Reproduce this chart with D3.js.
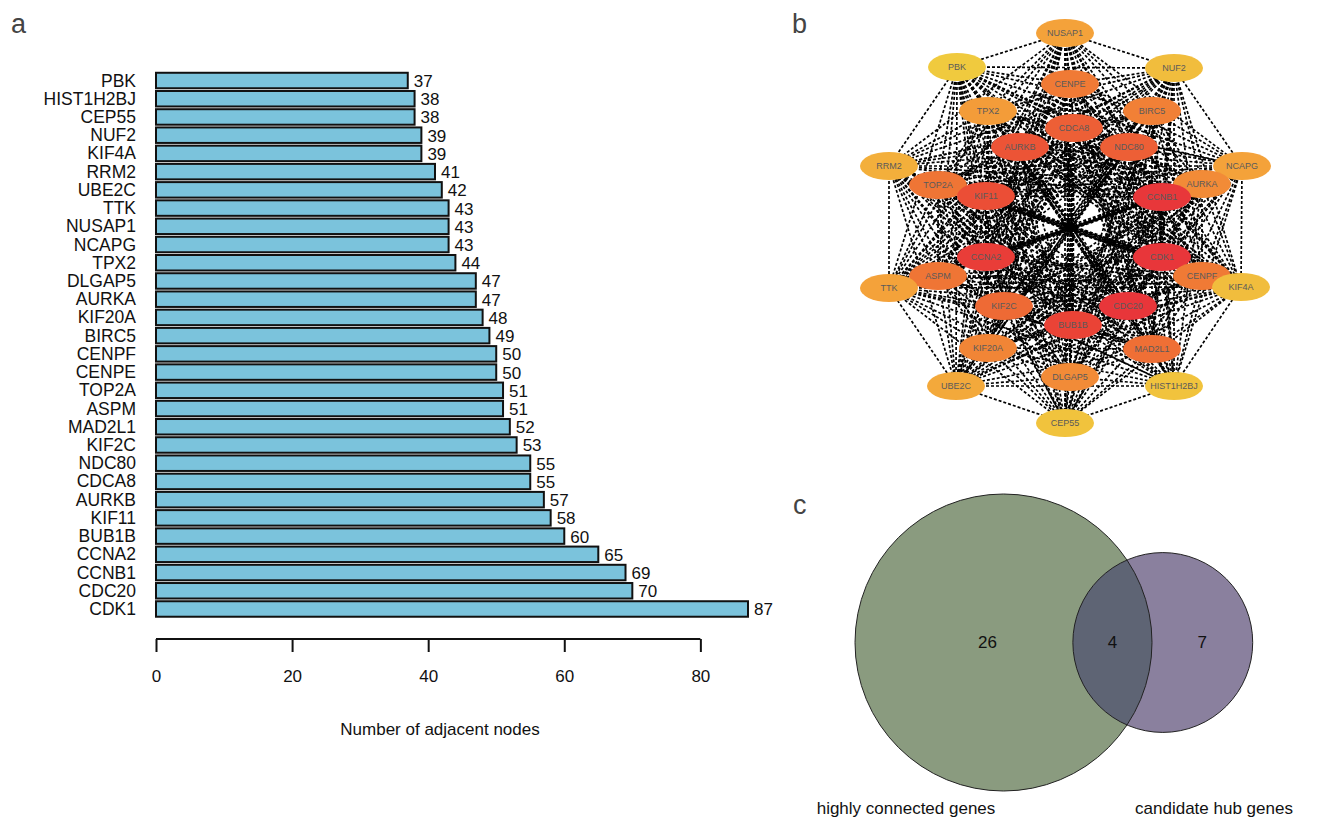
<!DOCTYPE html>
<html>
<head>
<meta charset="utf-8">
<script src="https://cdn.jsdelivr.net/npm/d3@7"></script>
<style>
  body { margin: 0; background: #fff; }
  text { font-family: "Liberation Sans", Arial, Helvetica, sans-serif; }
</style>
</head>
<body>
<div id="fig"></div>
<script>
// ---- data ----
const genes = ["PBK","HIST1H2BJ","CEP55","NUF2","KIF4A","RRM2","UBE2C","TTK","NUSAP1","NCAPG",
  "TPX2","DLGAP5","AURKA","KIF20A","BIRC5","CENPF","CENPE","TOP2A","ASPM","MAD2L1",
  "KIF2C","NDC80","CDCA8","AURKB","KIF11","BUB1B","CCNA2","CCNB1","CDC20","CDK1"];
const degrees = [37,38,38,39,39,41,42,43,43,43,44,47,47,48,49,50,50,51,51,52,53,55,55,57,58,60,65,69,70,87];
const xTicks = [0, 20, 40, 60, 80];

// network layout (relative to the centre of panel b)
const netNodes = ["NUSAP1","PBK","NUF2","CENPE","TPX2","BIRC5","CDCA8","AURKB","NDC80","RRM2",
  "NCAPG","TOP2A","AURKA","KIF11","CCNB1","CCNA2","CDK1","ASPM","CENPF","TTK",
  "KIF4A","KIF2C","CDC20","BUB1B","KIF20A","MAD2L1","UBE2C","DLGAP5","HIST1H2BJ","CEP55"];
const netLayout = [[-1,-194],[-109,-160],[108,-159],[4,-143],[-78,-116],[86,-116],[8,-99],[-46,-80],[63,-80],[-177,-61],
  [176,-61],[-128,-42],[136,-43],[-80,-31],[96,-30],[-80,30],[96,30],[-128,49],[136,49],[-177,61],
  [175,60],[-62,79],[62,79],[7,98],[-78,121],[86,122],[-110,159],[4,150],[108,159],[-1,196]];
// pairs with no interaction (network is otherwise fully connected)
const absentLinks = [];

const vennNames = ["highly connected genes", "candidate hub genes"];
const vennOnly = [26, 7];
const vennShared = 4;

// ---- svg ----
const W = 1319, H = 819;
const svg = d3.select("#fig").append("svg")
  .attr("width", W).attr("height", H)
  .style("background", "#fff");

const letter = (t, x, y) => svg.append("text")
  .attr("x", x).attr("y", y)
  .style("font-size", "27px").style("fill", "#444")
  .text(t);
letter("a", 11, 33);
letter("b", 792, 33);
letter("c", 793, 514);

// === Panel a: bar chart ===
const x = d3.scaleLinear().domain([0, 87]).range([156, 748]);
const y = d3.scaleBand().domain(genes).range([71.4, 618.1])
  .paddingInner(0.15).paddingOuter(0.075);

const barData = genes.map((g, i) => ({ gene: g, value: degrees[i] }));

const gA = svg.append("g");
gA.selectAll("rect.bar")
  .data(barData)
  .enter()
  .append("rect")
  .attr("class", "bar")
  .attr("x", x(0))
  .attr("y", d => y(d.gene))
  .attr("width", d => x(d.value) - x(0))
  .attr("height", y.bandwidth())
  .attr("fill", "#7BC3DC")
  .attr("stroke", "#111")
  .attr("stroke-width", 2);

gA.selectAll("text.gene")
  .data(barData)
  .enter()
  .append("text")
  .attr("x", 136)
  .attr("y", d => y(d.gene) + y.bandwidth() / 2)
  .attr("text-anchor", "end")
  .attr("dominant-baseline", "central")
  .style("font-size", "17.5px")
  .style("fill", "#111")
  .text(d => d.gene);

gA.selectAll("text.value")
  .data(barData)
  .enter()
  .append("text")
  .attr("x", d => x(d.value) + 6)
  .attr("y", d => y(d.gene) + y.bandwidth() / 2 + 1)
  .attr("dominant-baseline", "central")
  .style("font-size", "17px")
  .style("fill", "#111")
  .text(d => d.value);

// x axis, R style
const axisY = 639;
const xAxis = gA.append("g")
  .attr("transform", `translate(0,${axisY})`)
  .call(d3.axisBottom(x).tickValues(xTicks).tickSize(13).tickSizeOuter(0).tickPadding(18));
xAxis.select(".domain").remove();
xAxis.append("line")
  .attr("x1", x(xTicks[0])).attr("x2", x(xTicks[xTicks.length - 1]))
  .attr("stroke", "#111").attr("stroke-width", 2);
xAxis.selectAll(".tick line").attr("stroke", "#111").attr("stroke-width", 2);
xAxis.selectAll(".tick text")
  .style("font-size", "17px")
  .style("fill", "#111")
  .style("font-family", "'Liberation Sans', Arial, sans-serif");

gA.append("text")
  .attr("x", 440).attr("y", 735)
  .attr("text-anchor", "middle")
  .style("font-size", "17px").style("fill", "#111")
  .text("Number of adjacent nodes");

// === Panel b: network ===
const degreeOf = new Map(genes.map((g, i) => [g, degrees[i]]));
const nodeColor = d3.scaleLinear()
  .domain([37, 43, 50, 60, 70])
  .range(["#F0CA3E", "#F4A23A", "#F07A35", "#EA4336", "#E8363A"])
  .clamp(true);

const nx = d3.scaleLinear().domain([-200, 200]).range([866, 1266]);
const ny = d3.scaleLinear().domain([-200, 200]).range([27, 427]);

const nodes = netNodes.map((n, i) => ({ id: n, px: nx(netLayout[i][0]), py: ny(netLayout[i][1]) }));
const absent = new Set(absentLinks);
const links = [];
nodes.forEach((a, i) => nodes.forEach((b, j) => {
  if (j > i && !absent.has(a.id + "-" + b.id) && !absent.has(b.id + "-" + a.id)) links.push([a, b]);
}));

const gB = svg.append("g");
gB.selectAll("line.edge")
  .data(links)
  .enter()
  .append("line")
  .attr("x1", d => d[0].px).attr("y1", d => d[0].py)
  .attr("x2", d => d[1].px).attr("y2", d => d[1].py)
  .attr("stroke", "#000")
  .attr("stroke-width", 1.7)
  .attr("stroke-dasharray", "3,2");

const nodeG = gB.selectAll("g.node")
  .data(nodes)
  .enter()
  .append("g")
  .attr("transform", d => `translate(${d.px},${d.py})`);
nodeG.append("ellipse")
  .attr("rx", 29).attr("ry", 14)
  .attr("fill", d => nodeColor(degreeOf.get(d.id)));
nodeG.append("text")
  .attr("text-anchor", "middle")
  .attr("dominant-baseline", "central")
  .style("font-size", "9px")
  .style("fill", "#5a5a5a")
  .text(d => d.id);

// === Panel c: venn ===
const setTotals = [vennOnly[0] + vennShared, vennOnly[1] + vennShared];
const r = d3.scaleSqrt().domain([0, setTotals[0]]).range([0, 148.5]);
const r1 = r(setTotals[0]), r2 = r(setTotals[1]);

function lensArea(a, b, d) {
  const a2 = a * a, b2 = b * b;
  const t1 = a2 * Math.acos((d * d + a2 - b2) / (2 * d * a));
  const t2 = b2 * Math.acos((d * d + b2 - a2) / (2 * d * b));
  const t3 = 0.5 * Math.sqrt((-d + a + b) * (d + a - b) * (d - a + b) * (d + a + b));
  return t1 + t2 - t3;
}
const target = Math.PI * r1 * r1 * vennShared / setTotals[0];
let lo = Math.abs(r1 - r2) + 0.01, hi = r1 + r2;
for (let k = 0; k < 60; k++) {
  const mid = (lo + hi) / 2;
  if (lensArea(r1, r2, mid) > target) lo = mid; else hi = mid;
}
const dist = (lo + hi) / 2;
const cx1 = 1003.5, cy = 642.5, cx2 = cx1 + dist;

const gC = svg.append("g");
gC.append("clipPath").attr("id", "bigClip")
  .append("circle").attr("cx", cx1).attr("cy", cy).attr("r", r1);
gC.append("circle").attr("cx", cx1).attr("cy", cy).attr("r", r1)
  .attr("fill", "#8A9B7F");
gC.append("circle").attr("cx", cx2).attr("cy", cy).attr("r", r2)
  .attr("fill", "#8A809E");
gC.append("circle").attr("cx", cx2).attr("cy", cy).attr("r", r2)
  .attr("clip-path", "url(#bigClip)")
  .attr("fill", "#5E6474");
gC.selectAll("circle.outline")
  .data([[cx1, r1], [cx2, r2]])
  .enter()
  .append("circle")
  .attr("cx", d => d[0]).attr("cy", cy).attr("r", d => d[1])
  .attr("fill", "none").attr("stroke", "#222").attr("stroke-width", 1);

const vennLabels = [
  { t: vennOnly[0], x: cx1 - 16 },
  { t: vennShared, x: ((cx2 - r2) + (cx1 + r1)) / 2 },
  { t: vennOnly[1], x: ((cx1 + r1) + (cx2 + r2)) / 2 }
];
gC.selectAll("text.count")
  .data(vennLabels)
  .enter()
  .append("text")
  .attr("x", d => d.x).attr("y", cy)
  .attr("text-anchor", "middle")
  .attr("dominant-baseline", "central")
  .style("font-size", "17px").style("fill", "#111")
  .text(d => d.t);

gC.selectAll("text.cat")
  .data([{ t: vennNames[0], x: 906 }, { t: vennNames[1], x: 1214 }])
  .enter()
  .append("text")
  .attr("x", d => d.x).attr("y", 814)
  .attr("text-anchor", "middle")
  .style("font-size", "17px").style("fill", "#111")
  .text(d => d.t);
</script>
</body>
</html>
